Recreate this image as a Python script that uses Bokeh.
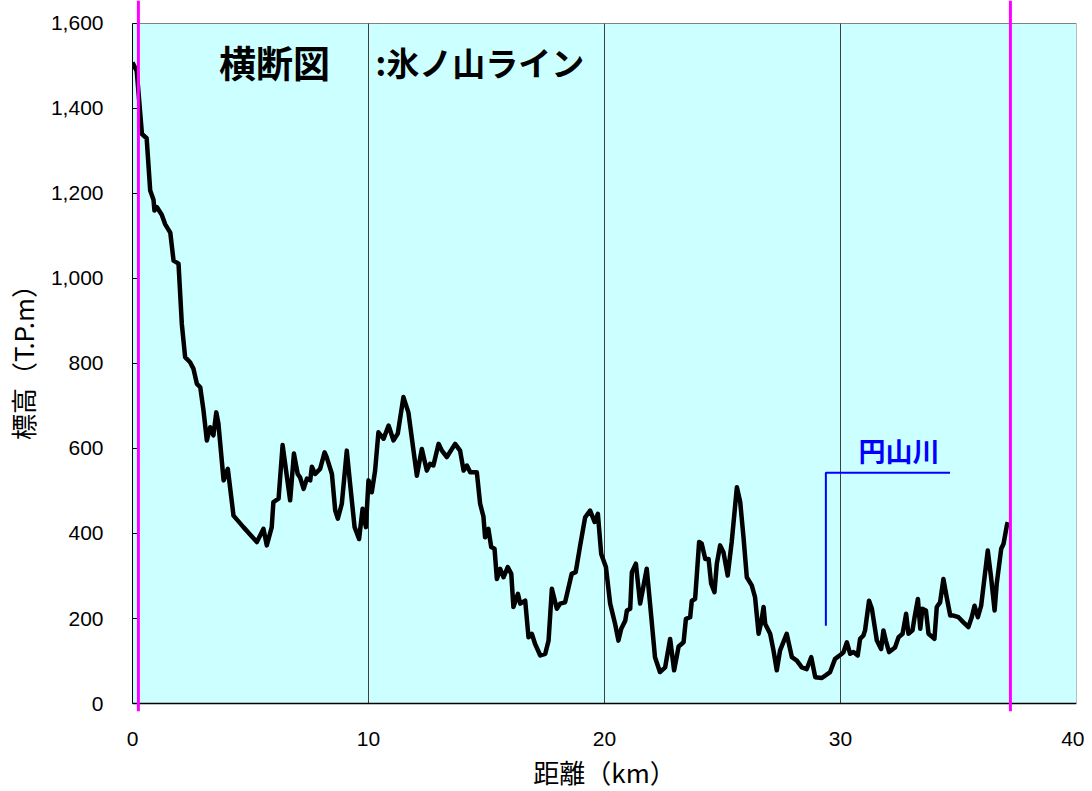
from bokeh.plotting import figure
from bokeh.models import Range1d, FixedTicker, NumeralTickFormatter, Span
from bokeh.core.properties import value
from bokeh.embed import file_html
from bokeh.resources import INLINE

# --- data -------------------------------------------------------------
dist_km = [0.00, 0.18, 0.40, 0.60, 0.75, 0.89, 0.93, 1.03, 1.24, 1.38, 1.60, 1.74, 1.95,
           2.09, 2.23, 2.44, 2.58, 2.73, 2.87, 3.01, 3.15, 3.29, 3.43, 3.55, 3.64, 3.86,
           4.04, 4.28, 4.70, 5.27, 5.55, 5.69, 5.90, 5.97, 6.19, 6.36, 6.68, 6.84, 7.00,
           7.10, 7.25, 7.39, 7.53, 7.60, 7.74, 7.95, 8.14, 8.23, 8.45, 8.59, 8.70, 8.87,
           9.08, 9.22, 9.41, 9.60, 9.75, 9.89, 10.00, 10.14, 10.28, 10.42, 10.64, 10.85,
           11.06, 11.24, 11.48, 11.69, 12.05, 12.26, 12.47, 12.61, 12.75, 12.97, 13.11,
           13.32, 13.67, 13.88, 14.03, 14.17, 14.31, 14.59, 14.73, 14.87, 14.94, 15.08,
           15.20, 15.34, 15.44, 15.58, 15.72, 15.90, 16.05, 16.14, 16.33, 16.43, 16.64,
           16.78, 16.92, 17.06, 17.28, 17.49, 17.63, 17.77, 17.98, 18.12, 18.33, 18.61,
           18.78, 18.97, 19.18, 19.39, 19.58, 19.72, 19.86, 20.06, 20.24, 20.45, 20.59,
           20.71, 20.88, 20.95, 21.09, 21.16, 21.33, 21.51, 21.79, 21.93, 22.14, 22.35,
           22.57, 22.78, 22.95, 23.14, 23.35, 23.45, 23.63, 23.70, 23.84, 24.01, 24.12,
           24.27, 24.41, 24.52, 24.66, 24.76, 24.90, 25.04, 25.22, 25.39, 25.61, 25.75,
           25.89, 26.03, 26.24, 26.38, 26.53, 26.64, 26.74, 26.81, 27.02, 27.16, 27.30,
           27.44, 27.72, 27.94, 28.15, 28.36, 28.57, 28.76, 28.93, 29.21, 29.56, 29.77,
           30.06, 30.13, 30.27, 30.41, 30.55, 30.73, 30.83, 30.97, 31.04, 31.21, 31.33,
           31.54, 31.72, 31.82, 31.92, 32.06, 32.31, 32.46, 32.63, 32.78, 32.88, 33.05,
           33.14, 33.28, 33.38, 33.47, 33.62, 33.73, 33.98, 34.08, 34.22, 34.36, 34.50,
           34.65, 34.79, 35.00, 35.21, 35.42, 35.56, 35.68, 35.82, 35.96, 36.24, 36.38,
           36.53, 36.62, 36.81, 36.91, 37.05, 37.09]
elev_m = [1508, 1488, 1340, 1330, 1207, 1185, 1160, 1168, 1150, 1128, 1108, 1042, 1035,
          893, 815, 803, 788, 752, 744, 689, 619, 650, 631, 685, 659, 525,
          552, 442, 415, 380, 411, 372, 415, 474, 482, 608, 478, 588, 540,
          532, 505, 529, 525, 557, 540, 552, 591, 579, 540, 454, 435, 470,
          595, 517, 415, 387, 458, 415, 525, 497, 548, 638, 623, 654,
          619, 635, 721, 685, 536, 599, 548, 564, 560, 611, 595,
          580, 611, 595, 548, 560, 544, 544, 470, 440, 391, 411,
          368, 364, 293, 317, 297, 321, 305, 227, 258, 235, 242,
          156, 164, 140, 113, 117, 148, 270, 223, 235, 238, 305,
          309, 372, 438, 454, 427, 446, 352, 321, 235, 187, 148,
          176, 195, 219, 223, 309, 329, 235, 317, 235, 109, 74,
          85, 152, 78, 134, 144, 199, 203, 242, 246, 380, 376,
          340, 340, 282, 262, 329, 372, 356, 301, 380, 509, 474,
          391, 297, 278, 250, 164, 191, 227, 187, 164, 125, 78,
          125, 164, 109, 101, 85, 81, 109, 62, 60, 74, 105,
          117, 121, 144, 117, 121, 113, 152, 160, 172, 242, 223,
          148, 128, 172, 148, 121, 132, 156, 164, 211, 164, 172,
          203, 246, 176, 223, 219, 164, 152, 227, 238, 293, 250,
          207, 207, 203, 191, 180, 203, 230, 203, 230, 360, 297,
          219, 282, 364, 376, 419, 427]

x_ticks = [0, 10, 20, 30, 40]
y_ticks = [0, 200, 400, 600, 800, 1000, 1200, 1400, 1600]
grid_x = [10, 20, 30]
marker_km = [0.25, 37.2]          # magenta section limits
river_label = "円山川"
river_line_x = [29.38, 29.38, 34.64]
river_line_y = [183, 543, 543]
title_left = "横断図"
title_right = ":氷ノ山ライン"

# --- figure -----------------------------------------------------------
p = figure(frame_width=944, frame_height=711,
           x_range=Range1d(0, 40), y_range=Range1d(-18.82, 1654.1),
           output_backend="svg", toolbar_location=None,
           min_border_left=129, min_border_right=8,
           min_border_top=0, min_border_bottom=72)
p.background_fill_color = "white"
p.border_fill_color = "white"
p.outline_line_color = None
p.grid.visible = False

# plot area
p.quad(left=[x_ticks[0]], right=[x_ticks[-1]], bottom=[y_ticks[0]], top=[y_ticks[-1]],
       fill_color="#CCFFFF", line_color="#808080", line_width=1)
# vertical grid lines
p.segment(x0=grid_x, y0=[y_ticks[0]] * len(grid_x), x1=grid_x, y1=[y_ticks[-1]] * len(grid_x),
          line_color="#404040", line_width=1)
# bottom axis line
p.segment(x0=[x_ticks[0]], y0=[0], x1=[x_ticks[-1]], y1=[0], line_color="black", line_width=1.5)

# profile
p.line(dist_km, elev_m, line_color="black", line_width=4.5, line_join="round")

# river annotation
p.line(river_line_x, river_line_y, line_color="#0000FF", line_width=2)
p.text(x=[30.76], y=[596], text=[river_label], text_color="#0000FF",
       text_font=value("Noto Sans CJK JP"), text_font_size="27px", text_font_style="bold",
       text_align="left", text_baseline="middle")

# title
p.text(x=[3.66], y=[1510], text=[title_left], text_color="black",
       text_font=value("Noto Sans CJK JP"), text_font_size="37px", text_font_style="bold",
       text_align="left", text_baseline="middle")
p.text(x=[10.30], y=[1510], text=[title_right], text_color="black",
       text_font=value("Noto Sans CJK JP"), text_font_size="33px", text_font_style="bold",
       text_align="left", text_baseline="middle")

# magenta section lines
for xm in marker_km:
    p.add_layout(Span(location=xm, dimension="height", line_color="#FF00FF", line_width=3))

# axes
ya = p.yaxis[0]
ya.bounds = (y_ticks[0], y_ticks[-1])
ya.ticker = FixedTicker(ticks=y_ticks)
ya.formatter = NumeralTickFormatter(format="0,0")
ya.major_tick_in = 5
ya.major_tick_out = 0
ya.minor_tick_line_color = None
ya.axis_line_color = "black"
ya.major_tick_line_color = "black"
ya.major_label_standoff = 29
ya.major_label_text_font = "Liberation Sans"
ya.major_label_text_font_size = "21px"
ya.major_label_text_color = "black"
ya.axis_label = "標高（T.P.m）"
ya.axis_label_text_font = "Noto Sans CJK JP"
ya.axis_label_text_font_size = "26px"
ya.axis_label_text_font_style = "normal"
ya.axis_label_text_color = "black"
ya.axis_label_standoff = 7

xa = p.xaxis[0]
xa.ticker = FixedTicker(ticks=x_ticks)
xa.axis_line_color = None
xa.major_tick_line_color = None
xa.minor_tick_line_color = None
xa.major_label_standoff = 14
xa.major_label_text_font = "Liberation Sans"
xa.major_label_text_font_size = "21px"
xa.major_label_text_color = "black"
xa.axis_label = "距離（km）"
xa.axis_label_text_font = "Noto Sans CJK JP"
xa.axis_label_text_font_size = "26px"
xa.axis_label_text_font_style = "normal"
xa.axis_label_text_color = "black"
xa.axis_label_standoff = 4

open("out.html", "w").write(file_html(p, INLINE))
